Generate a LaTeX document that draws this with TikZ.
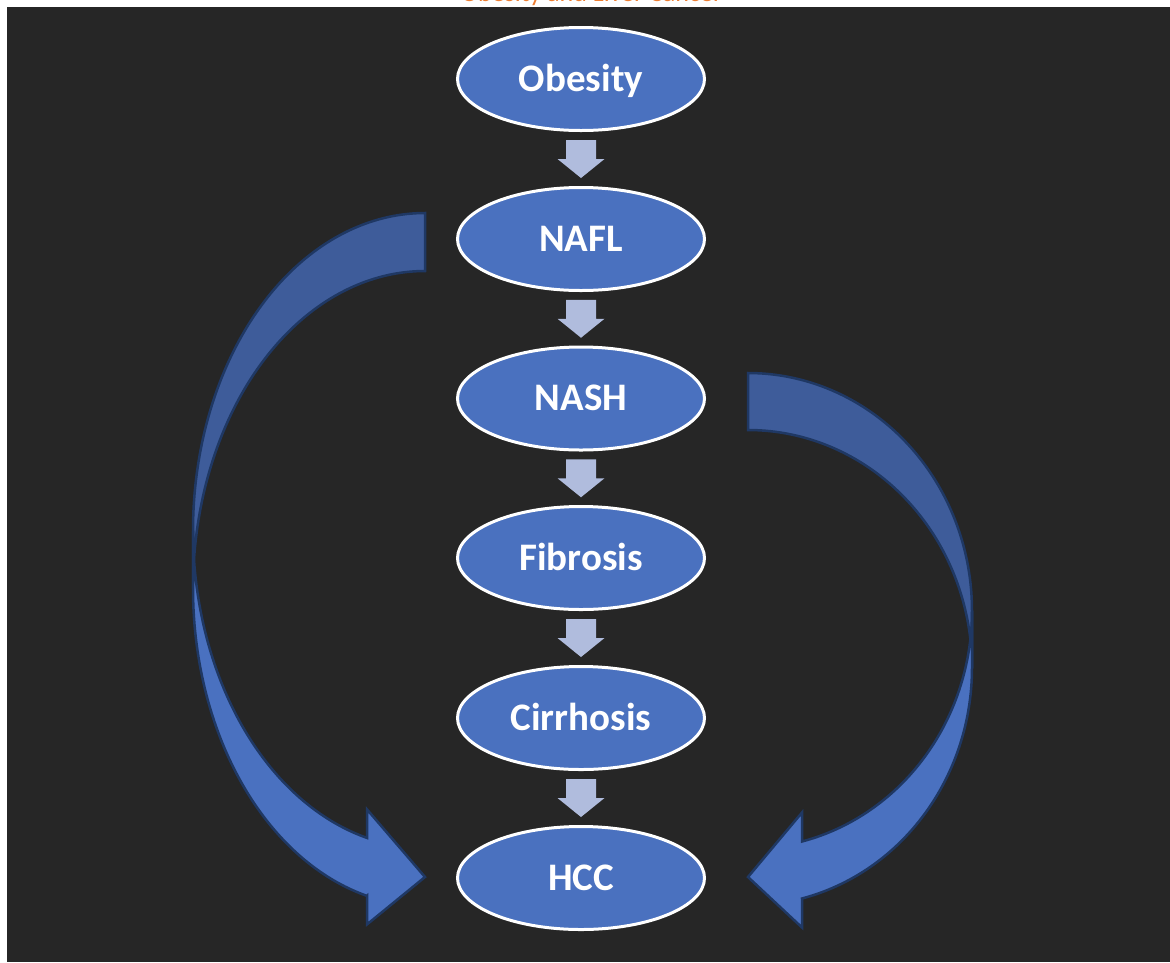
\documentclass[tikz,border=0pt]{standalone}
\usepackage{fontspec}
\setmainfont{Carlito}
\usetikzlibrary{shapes.geometric,calc}
\definecolor{bgdark}{HTML}{262626}
\definecolor{nodefill}{HTML}{4A71BF}
\definecolor{smallarr}{HTML}{B0BCDD}
\definecolor{backc}{HTML}{3E5C9A}
\definecolor{frontc}{HTML}{4A71C0}
\definecolor{outl}{HTML}{1F3864}
\definecolor{titleor}{HTML}{ED7D31}
\begin{document}
\begin{tikzpicture}[x=1pt,y=-1pt,
  stage/.style={ellipse, fill=nodefill, draw=white, line width=3pt,
    minimum width=247pt, minimum height=103pt, inner sep=0pt, text=white,
    font=\fontsize{39}{47}\selectfont\bfseries, text height=24.5pt, text depth=0pt},
  downarrow/.style={fill=smallarr},
  curveback/.style={fill=backc, draw=outl, line width=2.5pt, line join=miter},
  curvefront/.style={fill=frontc, draw=outl, line width=2.5pt, line join=miter},
  titletext/.style={anchor=base, text=titleor, font=\fontsize{26}{30}\selectfont, inner sep=0pt}]
\useasboundingbox (0,0) rectangle (1170,962);
\clip (0,0) rectangle (1170,962);
\fill[white] (0,0) rectangle (1170,962);
\node[titletext] (title) at (591.5,1.5) {Obesity and Liver Cancer};
\fill[bgdark] (7,7) rectangle (1170,962);

% left curved arrow (NAFL -> HCC)
\filldraw[curveback] plot[domain=270:180, samples=80] ({425+232*cos(\x)},{530.5+317.5*sin(\x)})
  -- plot[domain=180:270, samples=80] ({425+232*cos(\x)},{588.5+317.5*sin(\x)}) -- cycle;
\filldraw[curvefront] plot[domain=180:104.48, samples=80] ({425+232*cos(\x)},{530.5+317.5*sin(\x)})
  -- (367,809.4) -- (425,877) -- (367,924.4) -- (367,895.9)
  -- plot[domain=104.48:180, samples=80] ({425+232*cos(\x)},{588.5+317.5*sin(\x)}) -- cycle;

% right curved arrow (NASH -> HCC)
\filldraw[curveback] plot[domain=270:360, samples=80] ({748+224*cos(\x)},{610.75+237.75*sin(\x)})
  -- plot[domain=360:270, samples=80] ({748+224*cos(\x)},{667.75+237.75*sin(\x)}) -- cycle;
\filldraw[curvefront] plot[domain=0:76.05, samples=80] ({748+224*cos(\x)},{610.75+237.75*sin(\x)})
  -- (802,812.5) -- (748,877) -- (802,927.5) -- (802,898.5)
  -- plot[domain=76.05:0, samples=80] ({748+224*cos(\x)},{667.75+237.75*sin(\x)}) -- cycle;

\node[stage] (obesity) at (581,79) {Obesity};
\node[stage] (nafl) at (581,239) {NAFL};
\node[stage] (nash) at (581,398.5) {NASH};
\node[stage] (fibrosis) at (581,558) {Fibrosis};
\node[stage] (cirrhosis) at (581,718) {Cirrhosis};
\node[stage] (hcc) at (581,878) {HCC};

\foreach \a/\b in {obesity/nafl, nafl/nash, nash/fibrosis, fibrosis/cirrhosis, cirrhosis/hcc}{
  \path let \p1=($(\a.south)!0.5!(\b.north)$) in
    [downarrow] ({\x1-15pt},{\y1+19pt}) -- ({\x1+15pt},{\y1+19pt}) -- ({\x1+15pt},{\y1})
    -- ({\x1+23.5pt},{\y1}) -- ({\x1},{\y1-19pt}) -- ({\x1-23.5pt},{\y1})
    -- ({\x1-15pt},{\y1}) -- cycle;
}
\end{tikzpicture}
\end{document}
